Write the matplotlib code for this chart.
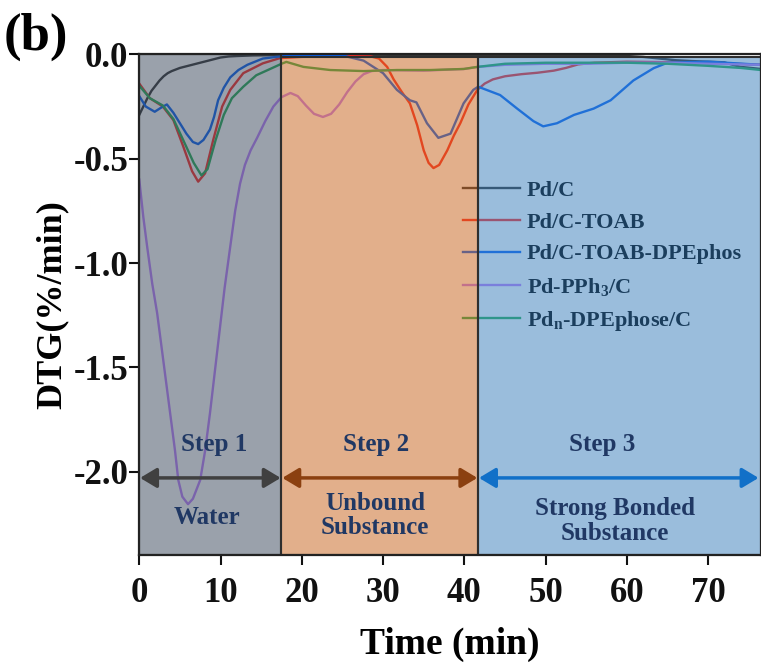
import matplotlib
matplotlib.use("Agg")
import matplotlib.pyplot as plt
from matplotlib.patches import Rectangle

plt.rcParams["font.family"] = ["Liberation Serif", "DejaVu Serif"]
plt.rcParams["font.weight"] = "bold"
plt.rcParams["axes.labelweight"] = "bold"
plt.rcParams["mathtext.fontset"] = "custom"
plt.rcParams["mathtext.rm"] = "Liberation Serif:bold"
plt.rcParams["mathtext.bf"] = "Liberation Serif:bold"
plt.rcParams["mathtext.it"] = "Liberation Serif:bold"

# ---- data (time in min, DTG in %/min) ----
t_pdc = [0, 0.5, 1.0, 1.5, 2.0, 2.5, 3.0, 3.5, 4.0, 5.0, 6.0, 7.0, 8.0, 9.0, 10, 11, 12, 14, 16,
         20, 25, 30, 35, 40, 45, 50, 55, 60, 62, 64, 66, 68, 70, 72, 73, 74, 76.5]
v_pdc = [-0.29, -0.25, -0.21, -0.175, -0.15, -0.125, -0.105, -0.09, -0.08, -0.065, -0.055, -0.045,
         -0.035, -0.025, -0.015, -0.01, -0.008, -0.005, -0.004, -0.003, -0.002, -0.002, -0.003,
         -0.004, -0.004, -0.003, -0.005, -0.008, -0.012, -0.02, -0.028, -0.032, -0.035, -0.038,
         -0.05, -0.06, -0.07]

t_toab = [0, 1.3, 2.9, 4.2, 5.4, 6.5, 7.25, 8.1, 9.1, 10.2, 11.2, 12.8, 15.2, 17.3, 20, 25,
          28.5, 29.5, 30.5, 31.3, 32.3, 33.3, 34.2, 35.0, 35.6, 36.2, 36.9, 37.9, 38.7, 39.5, 40.5,
          41.6, 42.5, 43.5, 45, 47, 49, 51, 52.5, 54, 56, 60, 70, 76.5]
v_toab = [-0.14, -0.21, -0.25, -0.315, -0.44, -0.56, -0.61, -0.57, -0.41, -0.25, -0.17, -0.09,
          -0.043, -0.018, -0.012, -0.008, -0.01, -0.02, -0.06, -0.12, -0.18, -0.235, -0.34, -0.46,
          -0.52, -0.545, -0.53, -0.46, -0.39, -0.33, -0.24, -0.17, -0.14, -0.12, -0.105, -0.095,
          -0.088, -0.078, -0.065, -0.048, -0.04, -0.035, -0.04, -0.05]

t_dpe = [0, 0.8, 1.9, 2.7, 3.4, 4.2, 5.0, 5.8, 6.6, 7.25, 7.9, 8.7, 9.2, 9.7, 10.4, 11.2, 12.2,
         13.3, 15.2, 17.3, 20, 25, 27.6, 30.0, 31.7, 33.3, 34.1, 35.4, 36.8, 38.3, 39.9, 41.1, 41.7,
         44.4, 46.5, 48.5, 49.7, 51.4, 53.5, 55.9, 58.0, 60.8, 63.3, 65, 70, 76.5]
v_dpe = [-0.2, -0.25, -0.275, -0.255, -0.24, -0.28, -0.33, -0.38, -0.42, -0.43, -0.41, -0.36,
         -0.3, -0.22, -0.16, -0.11, -0.075, -0.05, -0.02, -0.01, -0.005, -0.005, -0.03, -0.09,
         -0.17, -0.22, -0.23, -0.33, -0.40, -0.38, -0.235, -0.17, -0.155, -0.195, -0.26, -0.32,
         -0.345, -0.33, -0.29, -0.26, -0.22, -0.125, -0.066, -0.04, -0.035, -0.05]

t_pph3 = [0, 0.5, 1.0, 1.6, 2.2, 3.0, 3.8, 4.4, 4.8, 5.3, 6.0, 6.6, 7.0, 7.5, 8.1, 8.7, 9.3, 9.9,
          10.5, 11.2, 11.8, 12.4, 13.0, 13.7, 14.5, 15.5, 16.5, 17.5, 18.6, 19.5, 20.5, 21.5, 22.6,
          23.6, 24.6, 25.6, 26.6, 27.6, 28.6, 30, 35, 40, 41.7, 45, 50, 55, 60, 65, 70, 76.5]
v_pph3 = [-0.60, -0.78, -0.93, -1.10, -1.24, -1.48, -1.72, -1.90, -2.04, -2.12, -2.156, -2.13,
          -2.09, -2.04, -1.90, -1.72, -1.52, -1.32, -1.12, -0.92, -0.75, -0.62, -0.53, -0.46,
          -0.40, -0.32, -0.25, -0.205, -0.185, -0.2, -0.245, -0.285, -0.30, -0.285, -0.24, -0.18,
          -0.13, -0.095, -0.08, -0.075, -0.078, -0.07, -0.06, -0.05, -0.045, -0.045, -0.04, -0.04,
          -0.045, -0.05]

t_pdn = [0, 1.3, 2.9, 4.2, 5.4, 6.7, 7.65, 8.4, 9.4, 10.4, 11.4, 12.8, 14.4, 16.1, 17.5, 18.1,
         20.2, 23.5, 27.6, 31.7, 35.8, 39.9, 41.6, 45, 50, 55, 60, 65, 70, 74, 76.5]
v_pdn = [-0.15, -0.21, -0.245, -0.31, -0.41, -0.52, -0.58, -0.55, -0.41, -0.29, -0.21, -0.155,
         -0.10, -0.07, -0.045, -0.036, -0.06, -0.075, -0.08, -0.075, -0.075, -0.07, -0.06, -0.045,
         -0.04, -0.04, -0.04, -0.045, -0.055, -0.065, -0.075]

labels = ["Pd/C", "Pd/C-TOAB", "Pd/C-TOAB-DPEphos", r"Pd-PPh$_\mathrm{3}$/C",
          r"Pd$_\mathrm{n}$-DPEphose/C"]
line_colors = ["#363636", "#FF2D28", "#0A64F5", "#BE82FF", "#28AF5A"]

step_edges = [0, 17.5, 41.7, 80]
step_fill = [(55/255, 69/255, 89/255, 0.5), (199/255, 97/255, 25/255, 0.5),
             (55/255, 125/255, 187/255, 0.5)]
step_titles = ["Step 1", "Step 2", "Step 3"]
step_notes = ["Water", "Unbound\nSubstance", "Strong Bonded\nSubstance"]
arrow_colors = ["#404040", "#8B4010", "#1170C8"]

fig = plt.figure(figsize=(7.61, 6.68), dpi=100)
ax = fig.add_axes([0.183, 0.169, 0.817, 0.7496])

series = [(t_pdc, v_pdc), (t_toab, v_toab), (t_dpe, v_dpe), (t_pph3, v_pph3), (t_pdn, v_pdn)]
handles = []
for (t, v), c, lab in zip(series, line_colors, labels):
    h, = ax.plot(t, v, color=c, lw=1.7, label=lab, zorder=3)
    handles.append(h)

leg = ax.legend(handles=handles, loc="upper left", bbox_to_anchor=(0.52, 0.748), frameon=False,
                fontsize=16, handlelength=2.6, handletextpad=0.3, labelspacing=0.5,
                borderpad=0, borderaxespad=0)
leg.set_zorder(3.5)

# coloured step regions laid over the curves
tops = [0.0, -0.012, -0.012]
for i in range(3):
    x0, x1 = step_edges[i], step_edges[i + 1]
    ax.add_patch(Rectangle((x0, -2.4), x1 - x0, 2.4 + tops[i], facecolor=step_fill[i],
                           edgecolor="#2e2e2e", lw=1.5, zorder=4))

arrow_x = [(0.1, 17.4), (17.6, 41.6), (41.8, 76.2)]
title_x = [9.2, 29.2, 57.0]
note_x = [8.3, 29.0, 58.5]
note_y = [-2.22, -2.21, -2.235]
for i in range(3):
    ax.annotate("", xy=(arrow_x[i][1], -2.03), xytext=(arrow_x[i][0], -2.03),
                arrowprops=dict(arrowstyle="<|-|>,head_length=0.5,head_width=0.3",
                                color=arrow_colors[i], lw=2.5, mutation_scale=20,
                                shrinkA=0, shrinkB=0), zorder=6)
    ax.text(title_x[i], -1.87, step_titles[i], ha="center", va="center", fontsize=18,
            color="#203864", zorder=6)
    ax.text(note_x[i], note_y[i], step_notes[i], ha="center", va="center", fontsize=18,
            color="#203864", linespacing=1.1, zorder=6)

ax.set_xlim(0, 76.5)
ax.set_ylim(-2.4, 0)
ax.set_xticks([0, 10, 20, 30, 40, 50, 60, 70])
ax.set_yticks([0, -0.5, -1.0, -1.5, -2.0])
ax.set_yticklabels(["0.0", "-0.5", "-1.0", "-1.5", "-2.0"])
ax.tick_params(direction="out", length=7, width=1.5, labelsize=25, colors="#111111")
ax.tick_params(axis="y", pad=1)
ax.tick_params(axis="x", pad=9)
for s in ax.spines.values():
    s.set_linewidth(1.6)
    s.set_color("#222222")
    s.set_zorder(7)

ax.set_xlabel("Time (min)", fontsize=27, labelpad=12)
ax.set_ylabel("DTG(%/min)", fontsize=26, labelpad=3)
fig.text(0.005, 0.945, "(b)", fontsize=38, va="center", ha="left")

fig.savefig("out.png", dpi=100)
